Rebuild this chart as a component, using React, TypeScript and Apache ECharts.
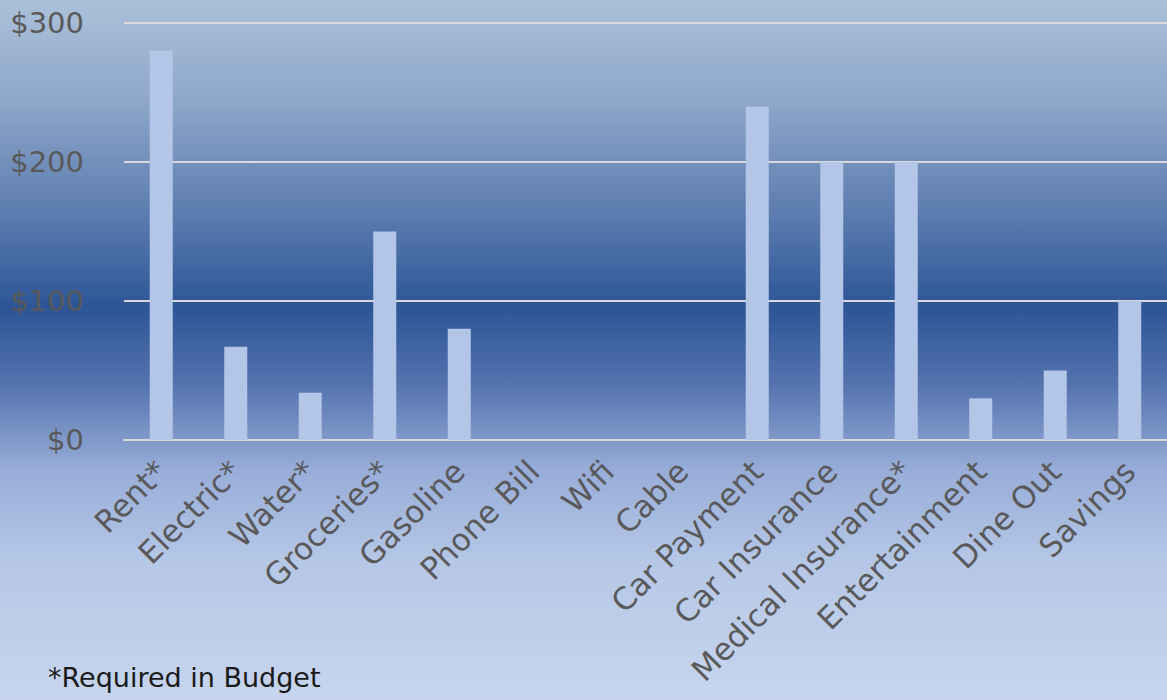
import React, { useEffect, useRef } from "react";
import * as echarts from "echarts";

const categories = [
  "Rent*",
  "Electric*",
  "Water*",
  "Groceries*",
  "Gasoline",
  "Phone Bill",
  "Wifi",
  "Cable",
  "Car Payment",
  "Car Insurance",
  "Medical Insurance*",
  "Entertainment",
  "Dine Out",
  "Savings",
];
const amounts = [280, 67, 34, 150, 80, 0, 0, 0, 240, 200, 200, 30, 50, 100];
const yTicks = { min: 0, max: 300, interval: 100 };
const footnote = "*Required in Budget";

const FONT = "'DejaVu Sans', sans-serif";

export default function App() {
  const ref = useRef<HTMLDivElement>(null);
  useEffect(() => {
    if (!ref.current) return;
    const chart = echarts.init(ref.current, undefined, { renderer: "svg" });
    chart.setOption({
      animation: false,
      backgroundColor: new echarts.graphic.LinearGradient(0, 0, 0, 1, [
        { offset: 0, color: "#abc0d9" },
        { offset: 0.14, color: "#8fa8ca" },
        { offset: 0.3, color: "#5e7eb1" },
        { offset: 0.44, color: "#2d5596" },
        { offset: 0.55, color: "#5573af" },
        { offset: 0.63, color: "#819aca" },
        { offset: 0.67, color: "#97acd8" },
        { offset: 0.8, color: "#b5c7e6" },
        { offset: 1, color: "#c7d5ee" },
      ]),
      grid: { left: 124, right: 0, top: 23, bottom: 260, containLabel: false },
      xAxis: {
        type: "category",
        data: categories,
        axisLine: { show: true, lineStyle: { color: "#d9d9d9", width: 2 } },
        axisTick: { show: false },
        axisLabel: {
          rotate: 45,
          interval: 0,
          margin: 26,
          color: "#595959",
          fontFamily: FONT,
          fontSize: 31,
        },
      },
      yAxis: {
        type: "value",
        min: yTicks.min,
        max: yTicks.max,
        interval: yTicks.interval,
        axisLine: { show: false },
        axisTick: { show: false },
        splitLine: { lineStyle: { color: "#d9d9d9", width: 2 } },
        axisLabel: {
          margin: 40,
          color: "#595959",
          fontFamily: FONT,
          fontSize: 29,
          formatter: (v: number) => "$" + v,
        },
      },
      series: [
        {
          type: "bar",
          data: amounts,
          barWidth: 23,
          itemStyle: { color: "#b4c6e7" },
        },
      ],
      graphic: [
        {
          type: "text",
          left: 48,
          top: 664,
          style: {
            text: footnote,
            fill: "#1a1a1a",
            font: `27px ${FONT}`,
          },
        },
      ],
    });
    return () => chart.dispose();
  }, []);
  return (
    <div
      ref={ref}
      style={{ position: "fixed", left: 0, top: 0, width: 1167, height: 700 }}
    />
  );
}
